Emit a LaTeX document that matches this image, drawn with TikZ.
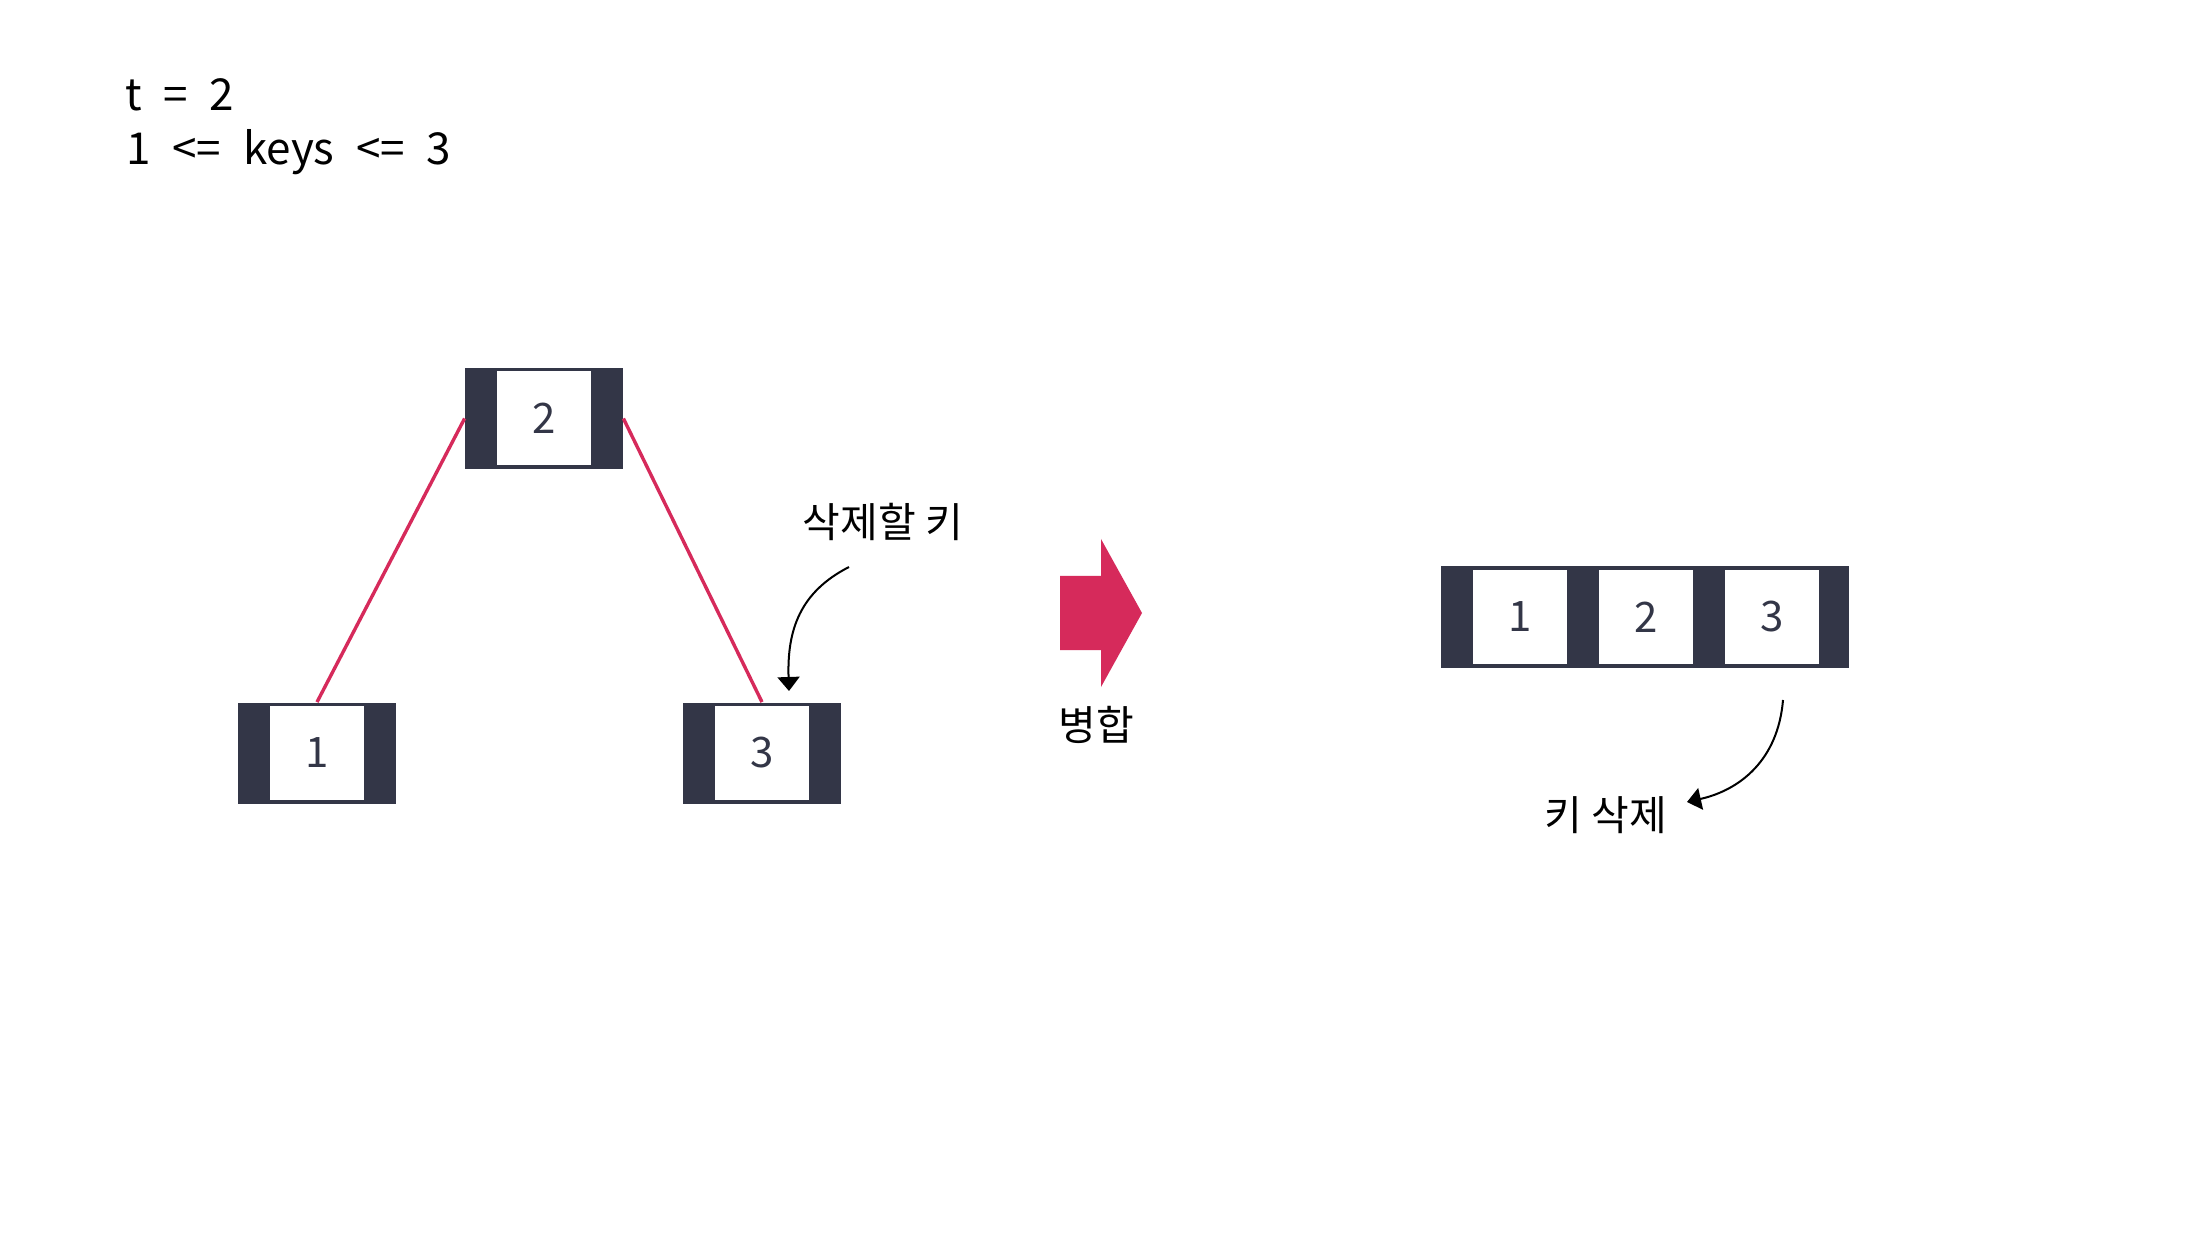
\documentclass[tikz,border=0pt]{standalone}
\usepackage{fontspec}
\setmainfont{Noto Sans CJK KR}
\newfontfamily\codefont[WordSpace=2.2]{Noto Sans CJK KR}
\usetikzlibrary{arrows.meta}
\definecolor{slate}{HTML}{333647}
\definecolor{crimson}{HTML}{D62A5B}
\begin{document}
\begin{tikzpicture}[x=0.5pt,y=-0.5pt,
  outerbox/.style={fill=slate, draw=none, inner sep=0pt, minimum height=50.5pt},
  keycell/.style={fill=white, draw=none, inner sep=0pt, minimum width=47pt, minimum height=47pt, text=slate, font=\fontsize{21}{25}\selectfont},
  treeedge/.style={crimson, line width=1.7pt},
  note/.style={font=\fontsize{20.5}{24}\selectfont, text=black, inner sep=0pt},
  curvearrow/.style={line width=1pt, -{Triangle[width=11pt,length=7pt]}},
  codetext/.style={font=\codefont\fontsize{22}{27}\selectfont, anchor=base west, inner sep=0pt}
]
\path[use as bounding box] (0,0) rectangle (2198,1234);
\fill[white] (0,0) rectangle (2198,1234);

% header text
\node[codetext] (l1) at (125,111) {t = 2};
\node[codetext] (l2) at (126,165) {1 <= keys <= 3};

% tree nodes
\node[outerbox, minimum width=79pt] (n2) at (544,418.5) {};
\node[keycell] (k2) at (544,418.5) {2};
\node[outerbox, minimum width=79pt] (n1) at (317,753) {};
\node[keycell] (k1) at (317,753) {1};
\node[outerbox, minimum width=79pt] (n3) at (762,753) {};
\node[keycell] (k3) at (762,753) {3};

\draw[treeedge] (n2.west) -- (n1.north);
\draw[treeedge] (n2.east) -- (n3.north);

% delete label
\node[note] (lbl1) at (883,521.5) {삭제할 키};
\coordinate (a1s) at (849,567);
\coordinate (a1e) at (789,691);
\draw[curvearrow] (a1s) .. controls (800,592) and (787,630) .. (a1e);

% big merge arrow
\fill[crimson] (1060,576) -- (1101,576) -- (1101,539) -- (1142,613) -- (1101,687) -- (1101,650) -- (1060,650) -- cycle;
\node[note] (lbl2) at (1096,725) {병합};

% merged node
\node[outerbox, minimum width=204pt] (m) at (1645,617) {};
\node[keycell] (m1) at (1520,617) {1};
\node[keycell] (m2) at (1646,617) {2};
\node[keycell] (m3) at (1772,617) {3};

\coordinate (a2s) at (1783,700);
\coordinate (a2e) at (1687,802);
\draw[curvearrow] (a2s) .. controls (1778,760) and (1740,790) .. (a2e);
\node[note] (lbl3) at (1606,815) {키 삭제};
\end{tikzpicture}
\end{document}
